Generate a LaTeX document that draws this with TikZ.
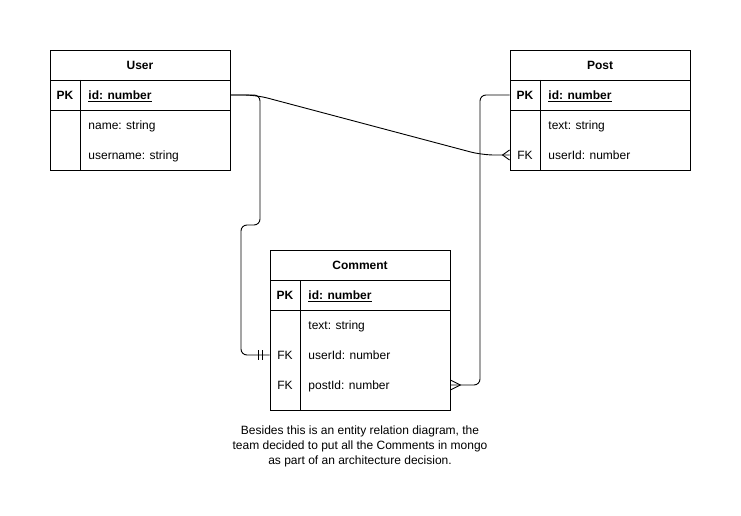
\documentclass[tikz,border=0pt]{standalone}
\usepackage{fontspec}
\setmainfont{Liberation Sans}
\usetikzlibrary{positioning}

\begin{document}
\begin{tikzpicture}[x=1pt, y=-1pt, line width=0.9pt,
    font=\fontsize{12}{15}\selectfont,
    tabla/.style={draw, minimum width=180pt, inner sep=0pt},
    campo/.style={anchor=west, inner sep=0pt, text height=10pt, text depth=1.5pt},
    clave/.style={font=\fontsize{12}{15}\selectfont\bfseries, inner sep=0pt, text height=10pt, text depth=1.5pt}]
  \useasboundingbox (0,0) rectangle (741,516);

  % Tabla User
  \node[tabla, minimum height=120pt] (user) at (140,110) {};
  \node[clave] (userhead) at (140,65) {User};
  \draw (50,80) -- (230,80); % cabecera
  \draw (50,110) -- (230,110); % clave primaria
  \draw (80,80) -- (80,170); % columna de claves
  \node[clave] (upk) at (65,95) {PK};
  \node[clave, anchor=west] (uid) at (88,95) {\underline{id: number}};
  \node[campo] (uname) at (88,125) {name: string};
  \node[campo] (uuser) at (88,155) {username: string};

  % Tabla Post
  \node[tabla, minimum height=120pt] (post) at (600,110) {};
  \node[clave] (posthead) at (600,65) {Post};
  \draw (510,80) -- (690,80); % cabecera
  \draw (510,110) -- (690,110); % clave primaria
  \draw (540,80) -- (540,170); % columna de claves
  \node[clave] (ppk) at (525,95) {PK};
  \node[clave, anchor=west] (pid) at (548,95) {\underline{id: number}};
  \node[campo] (ptext) at (548,125) {text: string};
  \node[inner sep=0pt, text height=10pt, text depth=1.5pt] (pfk) at (525,155) {FK};
  \node[campo] (puser) at (548,155) {userId: number};

  % Tabla Comment
  \node[tabla, minimum height=160pt] (comment) at (360,330) {};
  \node[clave] (commenthead) at (360,265) {Comment};
  \draw (270,280) -- (450,280); % cabecera
  \draw (270,310) -- (450,310); % clave primaria
  \draw (300,280) -- (300,410); % columna de claves
  \node[clave] (cpk) at (285,295) {PK};
  \node[clave, anchor=west] (cid) at (308,295) {\underline{id: number}};
  \node[campo] (ctext) at (308,325) {text: string};
  \node[inner sep=0pt, text height=10pt, text depth=1.5pt] (cfka) at (285,355) {FK};
  \node[campo] (cuser) at (308,355) {userId: number};
  \node[inner sep=0pt, text height=10pt, text depth=1.5pt] (cfkb) at (285,385) {FK};
  \node[campo] (cpost) at (308,385) {postId: number};

  % Relaciones
  \draw[rounded corners=12pt] (user.east |- upk) -- (256,95) -- (482,155) -- (post.west |- pfk); % User - Post
  \draw (post.west |- pfk) ++(0,-5) -- ++(-7,5) -- ++(7,5); % muchos

  \draw[rounded corners=6pt] (user.east |- upk) -- (260,95) -- (260,225) -- (241,225) -- (241,355) -- (comment.west |- cfka); % User - Comment
  \draw (comment.west |- cfka) ++(-11,-5) -- ++(0,10); % uno
  \draw (comment.west |- cfka) ++(-7,-5) -- ++(0,10);

  \draw[rounded corners=6pt] (post.west |- ppk) -- (480,95) -- (480,385) -- (comment.east |- cfkb); % Post - Comment
  \draw (comment.east |- cfkb) ++(0,-5) -- ++(10,5) -- ++(-10,5); % muchos

  % Nota
  \node[align=center, inner sep=0pt] (nota) at (360,446) {Besides this is an entity relation diagram, the\\team decided to put all the Comments in mongo\\as part of an architecture decision.};
\end{tikzpicture}
\end{document}
